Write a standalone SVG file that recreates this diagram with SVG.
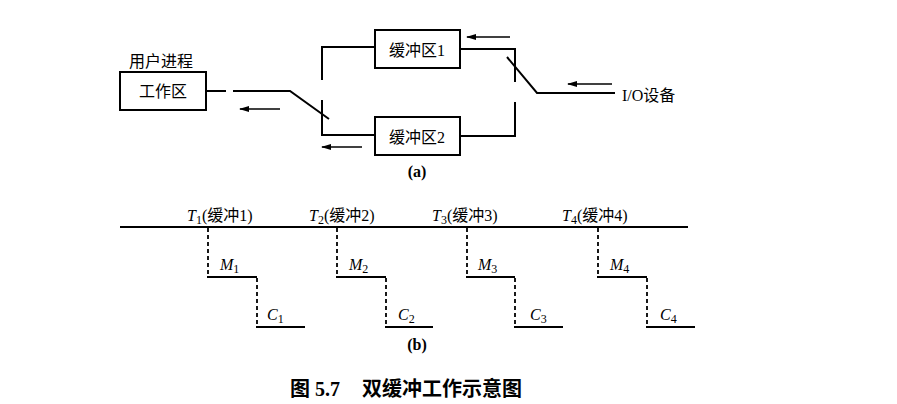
<svg xmlns="http://www.w3.org/2000/svg" width="897" height="404" viewBox="0 0 897 404">
<defs>
<style>
.box{fill:#fff;stroke:#000;stroke-width:2}
.ln{fill:none;stroke:#000;stroke-width:2}
.dash{fill:none;stroke:#000;stroke-width:1.8;stroke-dasharray:4 3}
.arr{fill:none;stroke:#000;stroke-width:1.6;marker-end:url(#ah)}
.cn{font-family:"Liberation Serif","Noto Sans CJK SC",serif;font-size:16px;fill:#000}
.b{font-weight:bold}
.it{font-style:italic}
.sub{font-size:12px}
.cap{font-family:"Liberation Serif","Noto Sans CJK SC",serif;font-size:20px;font-weight:bold;fill:#000}
</style>
<marker id="ah" viewBox="0 0 10 6" refX="9" refY="3" markerWidth="10" markerHeight="6" markerUnits="userSpaceOnUse" orient="auto">
<path d="M0,0 L10,3 L0,6 Z" fill="#000"/>
</marker>
</defs>
<rect width="897" height="404" fill="#fff"/>

<g id="connectors">
<line class="ln" x1="206" y1="91" x2="226" y2="91"/>
<polyline class="ln" points="233,91 290,91 329,119"/>
<polyline class="ln" points="375,47 322,47 322,80"/>
<polyline class="ln" points="322,100 322,135 375,135"/>
<polyline class="ln" points="460,49 515,49 515,82"/>
<polyline class="ln" points="515,102 515,136 460,136"/>
<polyline class="ln" points="507,57 537,93 615,93"/>
<line class="arr" x1="280" y1="109" x2="240" y2="109"/>
<line class="arr" x1="362" y1="147" x2="322" y2="147"/>
<line class="arr" x1="510" y1="37" x2="467" y2="37"/>
<line class="arr" x1="612" y1="84" x2="568" y2="84"/>
<line class="ln" x1="120" y1="227" x2="688" y2="227"/>
<line class="dash" x1="208" y1="228" x2="208" y2="277"/>
<line class="ln" x1="207" y1="277" x2="257" y2="277"/>
<line class="dash" x1="257" y1="278" x2="257" y2="327"/>
<line class="ln" x1="256" y1="327" x2="305" y2="327"/>
<line class="dash" x1="337" y1="228" x2="337" y2="277"/>
<line class="ln" x1="336" y1="277" x2="386" y2="277"/>
<line class="dash" x1="386" y1="278" x2="386" y2="327"/>
<line class="ln" x1="385" y1="327" x2="433" y2="327"/>
<line class="dash" x1="467" y1="228" x2="467" y2="277"/>
<line class="ln" x1="466" y1="277" x2="515" y2="277"/>
<line class="dash" x1="515" y1="278" x2="515" y2="327"/>
<line class="ln" x1="514" y1="327" x2="563" y2="327"/>
<line class="dash" x1="598" y1="228" x2="598" y2="277"/>
<line class="ln" x1="597" y1="277" x2="647" y2="277"/>
<line class="dash" x1="647" y1="278" x2="647" y2="327"/>
<line class="ln" x1="646" y1="327" x2="695" y2="327"/>
</g>

<g id="user-process">
<text class="cn" x="161" y="67" text-anchor="middle">用户进程</text>
<rect class="box" x="120" y="72" width="86" height="38"/>
<text class="cn" x="163" y="97" text-anchor="middle">工作区</text>
</g>

<g id="buffer1">
<rect class="box" x="375" y="30" width="85" height="38"/>
<text class="cn" x="417" y="56" text-anchor="middle">缓冲区1</text>
</g>

<g id="buffer2">
<rect class="box" x="375" y="117" width="85" height="38"/>
<text class="cn" x="417" y="143" text-anchor="middle">缓冲区2</text>
</g>

<g id="io-device">
<text class="cn" x="622" y="101">I/O设备</text>
</g>

<g id="labels">
<text class="cn b" x="417" y="177" text-anchor="middle">(a)</text>
<text class="cn" x="187" y="221"><tspan class="it">T</tspan><tspan class="sub" dy="3">1</tspan><tspan dy="-3">(缓冲1)</tspan></text>
<text class="cn" x="309" y="221"><tspan class="it">T</tspan><tspan class="sub" dy="3">2</tspan><tspan dy="-3">(缓冲2)</tspan></text>
<text class="cn" x="432" y="221"><tspan class="it">T</tspan><tspan class="sub" dy="3">3</tspan><tspan dy="-3">(缓冲3)</tspan></text>
<text class="cn" x="562" y="221"><tspan class="it">T</tspan><tspan class="sub" dy="3">4</tspan><tspan dy="-3">(缓冲4)</tspan></text>
<text class="cn" x="220" y="270"><tspan class="it">M</tspan><tspan class="sub" dy="3">1</tspan></text>
<text class="cn" x="349" y="270"><tspan class="it">M</tspan><tspan class="sub" dy="3">2</tspan></text>
<text class="cn" x="478" y="270"><tspan class="it">M</tspan><tspan class="sub" dy="3">3</tspan></text>
<text class="cn" x="610" y="270"><tspan class="it">M</tspan><tspan class="sub" dy="3">4</tspan></text>
<text class="cn" x="267" y="320"><tspan class="it">C</tspan><tspan class="sub" dy="3">1</tspan></text>
<text class="cn" x="398" y="320"><tspan class="it">C</tspan><tspan class="sub" dy="3">2</tspan></text>
<text class="cn" x="530" y="320"><tspan class="it">C</tspan><tspan class="sub" dy="3">3</tspan></text>
<text class="cn" x="660" y="320"><tspan class="it">C</tspan><tspan class="sub" dy="3">4</tspan></text>
<text class="cn b" x="417" y="350" text-anchor="middle">(b)</text>
<text class="cap" x="290" y="396">图 5.7</text>
<text class="cap" x="362" y="396">双缓冲工作示意图</text>
</g>
</svg>
